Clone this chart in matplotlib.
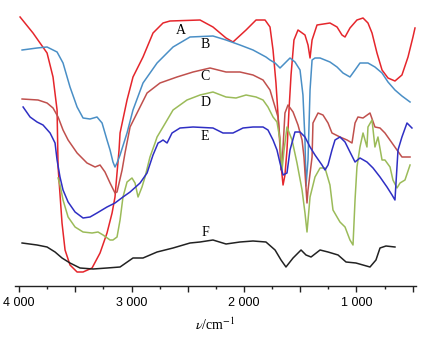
import numpy as np
import matplotlib
matplotlib.use("Agg")
import matplotlib.pyplot as plt
from matplotlib.ticker import FixedLocator, FuncFormatter

plt.rcParams['mathtext.fontset'] = 'stix'

# wavenumber (cm-1) and transmittance (arbitrary units, offset per curve)
wn_a = [3991, 3876, 3751, 3698, 3662, 3653, 3618, 3591, 3547, 3484, 3431, 3351, 3280, 3218,
        3173, 3147, 3129, 3111, 3102, 3040, 2987, 2898, 2809, 2720, 2658, 2391, 2276, 2160,
        2098, 1982, 1893, 1813, 1769, 1742, 1716, 1689, 1671, 1653, 1636, 1618, 1600, 1582,
        1556, 1520, 1458, 1431, 1413, 1395, 1351, 1236, 1173, 1129, 1102, 1058, 996, 942,
        898, 862, 818, 773, 720, 658, 596, 542, 498, 480]
t_a = [269, 253, 233, 209, 176, 119, 63, 36, 21, 14, 14, 18, 33, 53,
       73, 89, 113, 136, 153, 186, 209, 229, 253, 263, 265, 266, 259, 248,
       244, 256, 266, 266, 259, 236, 203, 156, 121, 101, 111, 136, 176, 211,
       246, 256, 251, 241, 228, 246, 261, 263, 259, 251, 249, 258, 266, 268,
       263, 253, 233, 216, 208, 205, 211, 229, 249, 258]

wn_b = [3973, 3840, 3751, 3662, 3609, 3547, 3484, 3431, 3369, 3307, 3262, 3218, 3191, 3165,
        3147, 3129, 3102, 3040, 2987, 2898, 2773, 2631, 2480, 2276, 2160, 2036, 1920, 1805,
        1769, 1724, 1680, 1653, 1591, 1547, 1502, 1476, 1458, 1449, 1431, 1413, 1395, 1369,
        1324, 1236, 1173, 1120, 1058, 1013, 969, 898, 836, 773, 720, 658, 596, 524]
t_b = [236, 238, 239, 234, 223, 199, 179, 168, 167, 169, 163, 146, 136, 124,
       119, 123, 131, 153, 176, 203, 223, 239, 249, 250, 246, 241, 236, 229,
       226, 223, 218, 221, 228, 224, 216, 191, 146, 100, 126, 196, 226, 228,
       228, 224, 219, 213, 209, 216, 223, 223, 219, 213, 204, 196, 190, 184]

wn_c = [3973, 3831, 3751, 3698, 3653, 3609, 3564, 3484, 3396, 3324, 3280, 3236, 3191, 3147,
        3129, 3084, 3058, 3013, 2951, 2862, 2747, 2596, 2453, 2302, 2160, 2036, 1920, 1831,
        1769, 1724, 1698, 1680, 1671, 1662, 1636, 1609, 1564, 1520, 1484, 1467, 1440, 1431,
        1395, 1387, 1342, 1298, 1253, 1218, 1147, 1084, 1040, 1013, 987, 942, 880, 836,
        791, 747, 684, 640, 596, 524]
t_c = [187, 186, 183, 178, 169, 156, 146, 133, 123, 119, 121, 114, 103, 93,
       94, 116, 133, 159, 173, 193, 203, 209, 214, 218, 214, 214, 211, 206,
       196, 179, 169, 146, 116, 121, 173, 181, 174, 161, 146, 129, 83, 96,
       129, 163, 173, 171, 163, 153, 149, 146, 143, 163, 169, 168, 173, 159,
       158, 153, 143, 136, 129, 129]

wn_d = [3653, 3636, 3609, 3564, 3502, 3431, 3351, 3298, 3253, 3191, 3165, 3129, 3102, 3076,
        3040, 2996, 2969, 2942, 2907, 2880, 2836, 2791, 2773, 2720, 2631, 2507, 2391, 2276,
        2160, 2071, 1982, 1893, 1831, 1787, 1742, 1707, 1680, 1662, 1644, 1618, 1573, 1529,
        1484, 1458, 1440, 1413, 1369, 1324, 1280, 1236, 1209, 1173, 1147, 1102, 1058, 1031,
        1013, 996, 969, 942, 907, 898, 862, 836, 809, 773, 747, 702, 676, 640,
        613, 569, 524]
t_d = [108, 101, 86, 69, 59, 54, 53, 54, 51, 46, 46, 49, 66, 89,
       104, 108, 103, 89, 99, 109, 129, 143, 149, 159, 176, 186, 191, 194,
       189, 188, 191, 189, 186, 179, 169, 164, 146, 116, 136, 159, 146, 123,
       96, 73, 54, 89, 109, 118, 118, 101, 76, 69, 64, 59, 46, 41,
       86, 119, 139, 153, 139, 159, 166, 139, 149, 126, 126, 119, 106, 98,
       103, 106, 121]

wn_e = [3964, 3902, 3840, 3787, 3724, 3680, 3662, 3636, 3609, 3564, 3502, 3431, 3369, 3307,
        3218, 3147, 3076, 3013, 2924, 2862, 2809, 2764, 2747, 2720, 2684, 2640, 2569, 2453,
        2276, 2187, 2098, 2009, 1920, 1831, 1787, 1742, 1707, 1680, 1653, 1618, 1591, 1547,
        1502, 1458, 1413, 1369, 1307, 1280, 1253, 1218, 1191, 1147, 1102, 1058, 1013, 969,
        907, 853, 791, 729, 684, 658, 631, 596, 551, 507]
t_e = [179, 169, 164, 161, 153, 143, 126, 109, 96, 84, 74, 68, 69, 73,
       79, 83, 89, 94, 103, 113, 131, 143, 144, 146, 143, 153, 158, 159,
       158, 153, 153, 158, 159, 159, 156, 146, 136, 123, 111, 113, 136, 154,
       154, 149, 139, 131, 121, 116, 121, 136, 146, 149, 144, 134, 124, 128,
       124, 118, 109, 99, 91, 86, 136, 149, 163, 158]

wn_f = [3973, 3840, 3751, 3680, 3618, 3547, 3458, 3342, 3218, 3102, 2987, 2898, 2773, 2631,
        2480, 2391, 2276, 2160, 2036, 1920, 1805, 1724, 1671, 1627, 1564, 1493, 1449, 1404,
        1324, 1253, 1164, 1093, 1005, 880, 827, 791, 738, 658]
t_f = [43, 41, 39, 34, 28, 23, 18, 17, 18, 19, 28, 28, 34, 38,
       43, 44, 46, 42, 44, 45, 44, 36, 26, 19, 28, 36, 31, 29,
       36, 34, 31, 24, 23, 19, 26, 38, 40, 39]

curves = [
    ("A", wn_a, t_a, "#e5262c", (2560, 256)),
    ("B", wn_b, t_b, "#4a8fc6", (2345, 241)),
    ("C", wn_c, t_c, "#c0504d", (2345, 209)),
    ("D", wn_d, t_d, "#9bbb59", (2345, 184)),
    ("E", wn_e, t_e, "#2f2fc4", (2345, 149)),
    ("F", wn_f, t_f, "#222222", (2340, 53)),
]

fig = plt.figure(figsize=(4.26, 3.37), dpi=100)
ax = fig.add_axes([15 / 426, 51 / 337, 401 / 426, 276 / 337])

for name, wn, t, color, (lx, ly) in curves:
    ax.plot(wn, t, color=color, lw=1.1)
    ax.text(lx, ly, name, ha="center", va="center", fontsize=10,
            family="Liberation Serif")

ax.set_xlim(4036, 471)
ax.set_ylim(0, 276)

for side in ("left", "right", "top"):
    ax.spines[side].set_visible(False)
ax.spines["bottom"].set_linewidth(1.0)
ax.spines["bottom"].set_color("#222222")
ax.set_yticks([])

ax.xaxis.set_major_locator(FixedLocator(np.arange(4000, 499, -500)))
ax.xaxis.set_minor_locator(FixedLocator(np.arange(3750, 499, -500)))
ax.xaxis.set_major_formatter(FuncFormatter(
    lambda v, p: ("%d %03d" % (v // 1000, v % 1000)) if v % 1000 == 0 else ""))
ax.tick_params(axis="x", which="major", direction="out", length=4, width=1.0,
               color="#222222", labelsize=9, pad=4)
ax.tick_params(axis="x", which="minor", direction="out", length=2, width=1.0,
               color="#222222")
for lab in ax.get_xticklabels():
    lab.set_family("Liberation Sans")

ax.set_xlabel(r"$\nu$/cm$^{-1}$", fontsize=10, family="Liberation Serif", labelpad=5)

fig.savefig("out.png", dpi=100)
